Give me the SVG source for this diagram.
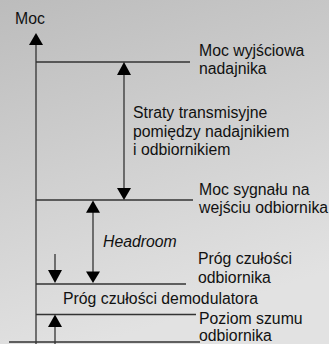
<svg xmlns="http://www.w3.org/2000/svg" width="329" height="344" viewBox="0 0 329 344">
<defs>
<linearGradient id="bg" x1="0" y1="0" x2="0.3" y2="1">
<stop offset="0" stop-color="#bcbcbc"/>
<stop offset="1" stop-color="#e2e2e2"/>
</linearGradient>
<style>
.t{font-family:"Liberation Sans",Arial,sans-serif;font-size:15.8px;fill:#111}
.i{font-style:italic}
.l{stroke:#333;stroke-width:1.3;fill:none}
.h{fill:#000}
</style>
</defs>
<rect width="329" height="344" fill="url(#bg)"/>
<g id="connectors">
<line class="l" x1="36" y1="44" x2="36" y2="344"/>
<polygon class="h" points="29,45 43,45 36,33"/>
<line class="l" x1="36" y1="62" x2="190" y2="62"/>
<line class="l" x1="36" y1="200" x2="193" y2="200"/>
<line class="l" x1="36" y1="284" x2="186" y2="284"/>
<line class="l" x1="36" y1="314.5" x2="196" y2="314.5"/>
<line class="l" x1="9" y1="342" x2="200" y2="342"/>
<line class="l" x1="124" y1="70" x2="124" y2="192"/>
<polygon class="h" points="117,75 131,75 124,62"/>
<polygon class="h" points="117,188 131,188 124,200"/>
<line class="l" x1="93" y1="208" x2="93" y2="276"/>
<polygon class="h" points="86,212.7 100,212.7 93,200.5"/>
<polygon class="h" points="86,271.5 100,271.5 93,283"/>
<line class="l" x1="55" y1="254" x2="55" y2="280"/>
<polygon class="h" points="48,270 62,270 55,283"/>
<line class="l" x1="55" y1="320" x2="55" y2="344"/>
<polygon class="h" points="48,327 62,327 55,314.5"/>
</g>
<g id="axis-label"><text class="t" x="15" y="24">Moc</text></g>
<g id="tx-power"><text class="t" x="199" y="56">Moc wyjściowa</text><text class="t" x="199" y="74">nadajnika</text></g>
<g id="losses"><text class="t" x="133" y="118">Straty transmisyjne</text><text class="t" x="133" y="136.5">pomiędzy nadajnikiem</text><text class="t" x="133" y="155">i odbiornikiem</text></g>
<g id="rx-signal"><text class="t" x="199" y="195">Moc sygnału na</text><text class="t" x="199" y="213">wejściu odbiornika</text></g>
<g id="headroom"><text class="t i" x="103" y="247">Headroom</text></g>
<g id="rx-threshold"><text class="t" x="198" y="264">Próg czułości</text><text class="t" x="198" y="283">odbiornika</text></g>
<g id="demod-threshold"><text class="t" x="63" y="304">Próg czułości demodulatora</text></g>
<g id="noise"><text class="t" x="199" y="324">Poziom szumu</text><text class="t" x="199" y="341">odbiornika</text></g>
</svg>
